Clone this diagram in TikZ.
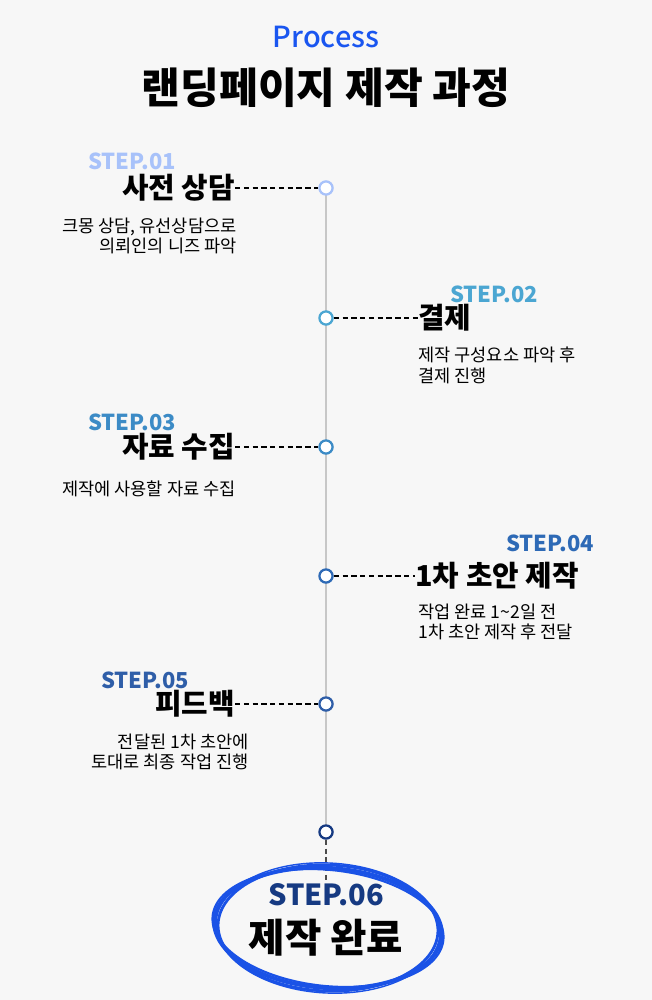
\documentclass[tikz,border=0pt]{standalone}
\usepackage{fontspec}
\setmainfont{Noto Sans CJK KR}
\newfontfamily\medfont{Noto Sans CJK KR Medium}
\usetikzlibrary{positioning}
\definecolor{bgc}{HTML}{F7F7F7}
\definecolor{procblue}{HTML}{1A56F0}
\definecolor{pena}{HTML}{A8C2FA}
\definecolor{penb}{HTML}{4BA6D2}
\definecolor{penc}{HTML}{3C8BC6}
\definecolor{pend}{HTML}{2E6AB6}
\definecolor{pene}{HTML}{2F5EA8}
\definecolor{penf}{HTML}{163A82}
\definecolor{scribble}{HTML}{1A52E6}
\tikzset{
  steplabel/.style={font=\bfseries\fontsize{12.5}{14}\selectfont, inner sep=0pt},
  headline/.style={font=\bfseries\fontsize{16.4}{19}\selectfont, inner sep=0pt},
  desc/.style={font=\fontsize{10}{11.4}\selectfont, inner sep=0pt},
  dot/.style={circle, draw=#1, line width=1.3pt, fill=white, minimum size=7.5pt, inner sep=0pt},
  leader/.style={densely dashed, line width=0.6pt},
}
\begin{document}
\begin{tikzpicture}[x=0.02cm,y=-0.02cm]
	\fill[bgc] (0,0) rectangle (652,1000);
	\node[font=\medfont\fontsize{16.5}{18}\selectfont, text=procblue, inner sep=0pt] (proc) at (326,37) {Process};
	\node[font=\bfseries\fontsize{24}{27}\selectfont, inner sep=0pt] (title) at (326,88) {랜딩페이지 제작 과정};
	
	\draw[black!22, line width=1pt] (326,188) -- (326,832);
	
	% step 01
	\node[dot=pena] (d1) at (326,188) {};
	\node[steplabel, text=pena, anchor=west] (s1) at (88,161) {STEP.01};
	\node[headline, anchor=east] (h1) at (235,188) {사전 상담};
	\node[desc, anchor=north east, align=right] (t1) at (237,218) {크몽 상담, 유선상담으로\\의뢰인의 니즈 파악};
	\draw[leader] (h1.east) -- (d1.west);
	
	% step 02
	\node[dot=penb] (d2) at (326,318) {};
	\node[steplabel, text=penb, anchor=west] (s2) at (450,294) {STEP.02};
	\node[headline, anchor=west] (h2) at (418,318) {결제};
	\node[desc, anchor=north west, align=left] (t2) at (418,347) {제작 구성요소 파악 후\\결제 진행};
	\draw[leader] (d2.east) -- (h2.west);
	
	% step 03
	\node[dot=penc] (d3) at (326,447) {};
	\node[steplabel, text=penc, anchor=west] (s3) at (88,422) {STEP.03};
	\node[headline, anchor=east] (h3) at (235,447) {자료 수집};
	\node[desc, anchor=east] (t3) at (236,489) {제작에 사용할 자료 수집};
	\draw[leader] (h3.east) -- (d3.west);
	
	% step 04
	\node[dot=pend] (d4) at (326,576) {};
	\node[steplabel, text=pend, anchor=west] (s4) at (506,543) {STEP.04};
	\node[headline, anchor=west] (h4) at (415,576) {1차 초안 제작};
	\node[desc, anchor=north west, align=left] (t4) at (418,604) {작업 완료 1\textasciitilde2일 전\\1차 초안 제작 후 전달};
	\draw[leader] (d4.east) -- (h4.west);
	
	% step 05
	\node[dot=pene] (d5) at (326,704) {};
	\node[steplabel, text=pene, anchor=west] (s5) at (101,680) {STEP.05};
	\node[headline, anchor=east] (h5) at (235,704) {피드백};
	\node[desc, anchor=north east, align=right] (t5) at (249,734) {전달된 1차 초안에\\토대로 최종 작업 진행};
	\draw[leader] (h5.east) -- (d5.west);
	
	% step 06
	\node[dot=penf] (d6) at (326,832) {};
	\coordinate (e6) at (326,880);
	\draw[leader, black!70] (d6.south) -- (e6);
	\node[font=\bfseries\fontsize{16.5}{18}\selectfont, text=penf, inner sep=0pt] (s6) at (326,895) {STEP.06};
	\node[font=\bfseries\fontsize{22.5}{25}\selectfont, inner sep=0pt] (h6) at (326,938) {제작 완료};
	\foreach \r/\a/\b/\w in {-4/114/60/2.2, -2/110/63/1.6, -6/116/58/1.2, -3/112/65/0.8}
		\draw[scribble, line width=\w pt, rotate around={\r:(328,928)}] (328,928) ellipse ({\a} and {\b});
\end{tikzpicture}
\end{document}
